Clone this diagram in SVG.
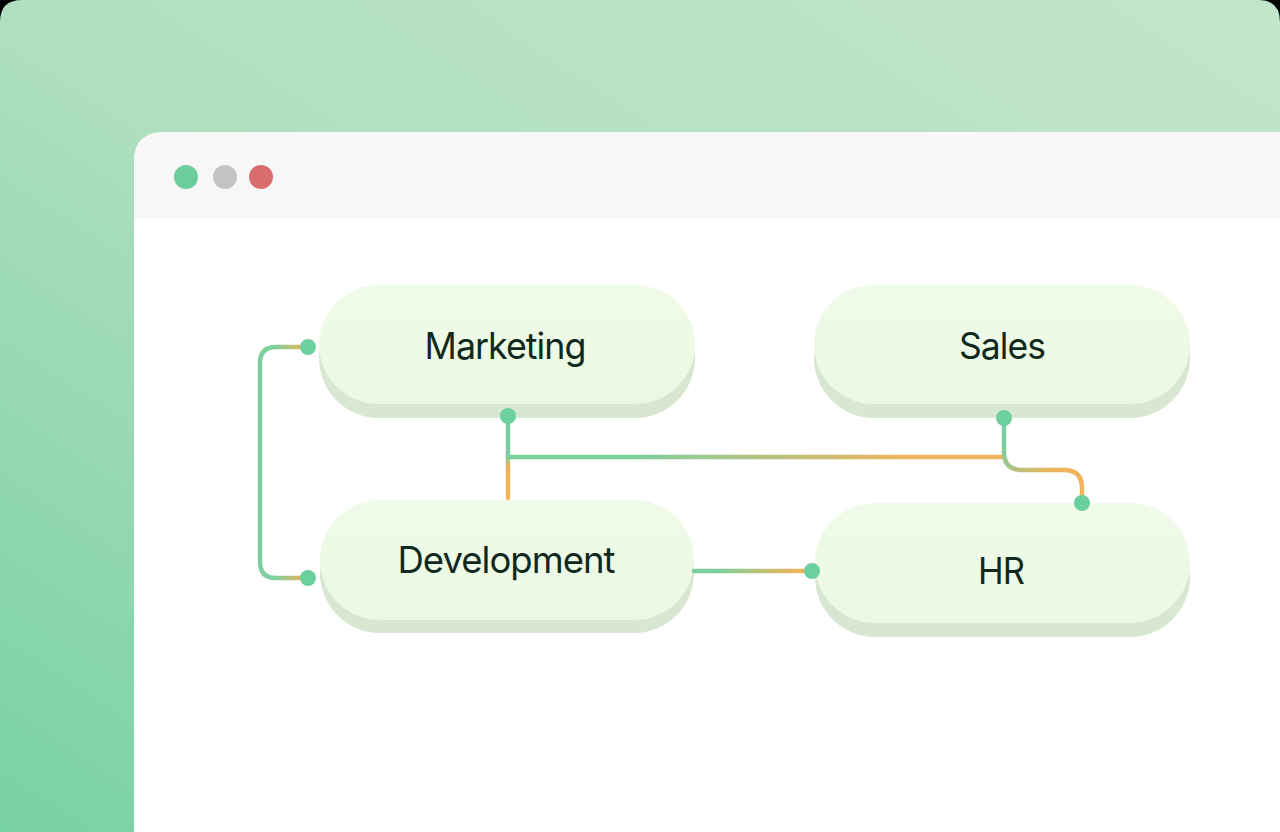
<svg xmlns="http://www.w3.org/2000/svg" width="1280" height="832" viewBox="0 0 1280 832">
<style>
.shadow{fill:#d8e7d2}
.face{fill:url(#faceG)}
.label{font-family:Inter,"Liberation Sans",sans-serif;font-size:37px;font-weight:400;fill:#10291f;text-anchor:middle;letter-spacing:-1px}
.conn{fill:none;stroke-width:4.5;stroke-linecap:round;stroke-linejoin:round}
.dot{fill:#6ccf9e}
</style>
<defs>
<linearGradient id="bgG" x1="1" y1="0" x2="0" y2="1">
<stop offset="0" stop-color="#c2e5cb"/>
<stop offset="0.5" stop-color="#b0dfc0"/>
<stop offset="1" stop-color="#78d1a4"/>
</linearGradient>
<linearGradient id="faceG" x1="0" y1="0" x2="0" y2="1">
<stop offset="0" stop-color="#effbe8"/>
<stop offset="1" stop-color="#ebf8e3"/>
</linearGradient>
<linearGradient id="g1" gradientUnits="userSpaceOnUse" x1="262" y1="0" x2="305" y2="0">
<stop offset="0.3" stop-color="#7dcf9e"/>
<stop offset="1" stop-color="#eeb45c"/>
</linearGradient>
<linearGradient id="g2v" gradientUnits="userSpaceOnUse" x1="0" y1="420" x2="0" y2="498">
<stop offset="0.45" stop-color="#7dcf9e"/>
<stop offset="0.6" stop-color="#eeb45c"/>
</linearGradient>
<linearGradient id="g2h" gradientUnits="userSpaceOnUse" x1="508" y1="0" x2="1004" y2="0">
<stop offset="0.25" stop-color="#7dcf9e"/>
<stop offset="0.8" stop-color="#eeb45c"/>
</linearGradient>
<linearGradient id="g3" gradientUnits="userSpaceOnUse" x1="1004" y1="430" x2="1070" y2="490">
<stop offset="0.1" stop-color="#7dcf9e"/>
<stop offset="0.7" stop-color="#eeb45c"/>
</linearGradient>
<linearGradient id="g4" gradientUnits="userSpaceOnUse" x1="695" y1="0" x2="808" y2="0">
<stop offset="0.2" stop-color="#7dcf9e"/>
<stop offset="0.9" stop-color="#eeb45c"/>
</linearGradient>
</defs>

<rect x="0" y="0" width="1280" height="832" fill="#000"/>
<path d="M0,832 V22 Q0,0 22,0 H1258 Q1280,0 1280,22 V832 Z" fill="url(#bgG)"/>

<g id="window">
<path d="M134,832 V162 Q134,132 164,132 H1280 V832 Z" fill="#ffffff"/>
<path d="M134,219 V162 Q134,132 164,132 H1280 V219 Z" fill="#f7f7f7"/>
<circle cx="186" cy="177" r="12" fill="#6ccc9c"/>
<circle cx="225" cy="177" r="12" fill="#c4c4c4"/>
<circle cx="261" cy="177" r="12" fill="#d96c6c"/>
</g>

<g id="node-marketing">
<rect class="shadow" x="319" y="298" width="376" height="120" rx="60"/>
<rect class="face" x="319" y="285" width="376" height="119" rx="59.5"/>
<text class="label" x="505" y="359" textLength="161" lengthAdjust="spacingAndGlyphs">Marketing</text>
</g>

<g id="node-sales">
<rect class="shadow" x="814" y="298" width="376" height="120" rx="60"/>
<rect class="face" x="814" y="285" width="376" height="119" rx="59.5"/>
<text class="label" x="1002" y="359" textLength="86" lengthAdjust="spacingAndGlyphs">Sales</text>
</g>

<g id="node-development">
<rect class="shadow" x="320" y="512" width="374" height="121" rx="60"/>
<rect class="face" x="320" y="500" width="374" height="120" rx="60"/>
<text class="label" x="506" y="573" textLength="217" lengthAdjust="spacingAndGlyphs">Development</text>
</g>

<g id="node-hr">
<rect class="shadow" x="815" y="516" width="375" height="121" rx="60"/>
<rect class="face" x="815" y="503" width="375" height="120" rx="60"/>
<text class="label" x="1001" y="584" textLength="46" lengthAdjust="spacingAndGlyphs">HR</text>
</g>

<g id="connectors">
<path class="conn" stroke="url(#g1)" d="M306,347 H276 Q260,347 260,363 V562 Q260,578 276,578 H306"/>
<path class="conn" stroke="url(#g2v)" d="M508,418 V498" stroke-linecap="butt"/>
<path class="conn" stroke="url(#g2h)" d="M508,457 H1004"/>
<path class="conn" stroke="url(#g3)" d="M1004,420 V452 Q1004,470 1022,470 H1064 Q1082,470 1082,488 V502"/>
<path class="conn" stroke="url(#g4)" d="M694,571 H810" stroke-linecap="butt"/>
<circle class="dot" cx="308" cy="347" r="8"/>
<circle class="dot" cx="308" cy="578" r="8"/>
<circle class="dot" cx="508" cy="416" r="8"/>
<circle class="dot" cx="1004" cy="418" r="8"/>
<circle class="dot" cx="1082" cy="503" r="8"/>
<circle class="dot" cx="812" cy="571" r="8"/>
</g>
</svg>
